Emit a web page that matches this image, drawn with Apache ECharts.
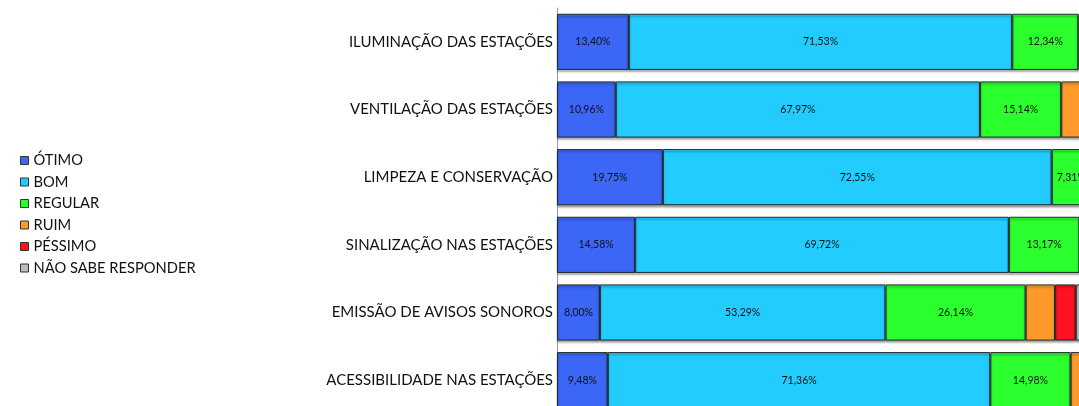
<!DOCTYPE html>
<html lang="pt-BR">
<head>
<meta charset="UTF-8">
<title>Avaliação das estações</title>
<script src="https://cdn.jsdelivr.net/npm/echarts@6/dist/echarts.min.js"></script>
<style>
  html, body { margin: 0; padding: 0; background: #fff; overflow: hidden; }
  /* a área passa da janela: o fim da escala (100%) fica fora da imagem, como no original */
  #chart { width: 1093px; height: 414px; }
</style>
</head>
<body>
<div id="chart"></div>
<script>
// itens avaliados (de cima para baixo)
var categorias = [
    'ILUMINAÇÃO DAS ESTAÇÕES',
    'VENTILAÇÃO DAS ESTAÇÕES',
    'LIMPEZA E CONSERVAÇÃO',
    'SINALIZAÇÃO NAS ESTAÇÕES',
    'EMISSÃO DE AVISOS SONOROS',
    'ACESSIBILIDADE NAS ESTAÇÕES'
];

// percentuais por resposta
var otimo    = [13.40, 10.96, 19.75, 14.58, 8.00, 9.48];
var bom      = [71.53, 67.97, 72.55, 69.72, 53.29, 71.36];
var regular  = [12.34, 15.14, 7.31, 13.17, 26.14, 14.98];
var ruim     = [1.80, 4.50, 0.25, 1.70, 5.50, 2.60];
var pessimo  = [0.50, 0.90, 0.10, 0.40, 3.86, 0.80];
var naoSabe  = [0.43, 0.53, 0.04, 0.43, 3.21, 0.78];

var nomes = ['ÓTIMO', 'BOM', 'REGULAR', 'RUIM', 'PÉSSIMO', 'NÃO SABE RESPONDER'];
var cores = ['#3b66f6', '#22ccff', '#2bff2e', '#ff9a2a', '#ff1023', '#bcbcbc'];
var valores = [otimo, bom, regular, ruim, pessimo, naoSabe];

var fonte = 'Lato, "Open Sans", sans-serif';

var series = nomes.map(function (nome, i) {
    return {
        name: nome,
        type: 'bar',
        stack: 'total',
        barCategoryGap: '17%',
        data: valores[i],
        itemStyle: {
            color: cores[i],
            borderColor: '#1e2a2a',
            borderWidth: 1,
            shadowColor: 'rgba(0,0,0,0.35)',
            shadowOffsetY: 2,
            shadowBlur: 2
        },
        label: {
            show: i < 3,
            position: 'inside',
            color: '#111',
            fontSize: 10.5,
            fontFamily: fonte,
            formatter: function (p) {
                return p.value.toFixed(2).replace('.', ',') + '%';
            }
        }
    };
});

var chart = echarts.init(document.getElementById('chart'));
chart.setOption({
    animation: false,
    legend: {
        orient: 'vertical',
        left: 15,
        top: 148,
        itemWidth: 8,
        itemHeight: 8,
        itemGap: 6.5,
        icon: 'rect',
        itemStyle: { borderColor: '#333', borderWidth: 1 },
        textStyle: { fontSize: 14.7, color: '#111', fontFamily: fonte },
        data: nomes
    },
    grid: { left: 557, right: 0, top: 8, bottom: 0, containLabel: false },
    xAxis: {
        type: 'value',
        min: 0,
        max: 100,
        show: false
    },
    yAxis: {
        type: 'category',
        inverse: true,
        data: categorias,
        axisLine: { lineStyle: { color: '#999', width: 1 } },
        axisTick: { show: false },
        axisLabel: { fontSize: 15, color: '#111', fontFamily: fonte, margin: 4 }
    },
    series: series
});
</script>
</body>
</html>
